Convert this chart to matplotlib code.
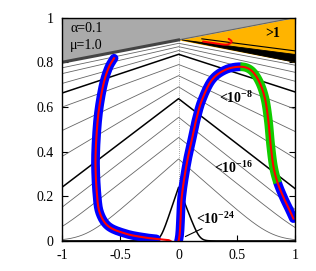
import numpy as np
import matplotlib
matplotlib.use("Agg")
import matplotlib.pyplot as plt

plt.rcParams['font.family'] = ['Liberation Serif', 'DejaVu Serif']
plt.rcParams['mathtext.fontset'] = 'custom'
plt.rcParams['mathtext.rm'] = 'Liberation Serif'
plt.rcParams['mathtext.bf'] = 'Liberation Serif:bold'

# contour levels (log10), every 2 decades; thick every 8
levels = [0, -2, -4, -6, -8, -10, -12, -14, -16, -18, -20, -22, -24]
peak_y = [0.900, 0.885, 0.870, 0.853, 0.836, 0.790, 0.740, 0.690, 0.637, 0.554, 0.464, 0.367, 0.240]
left_y = [0.800, 0.775, 0.749, 0.705, 0.662, 0.599, 0.494, 0.378, 0.240, 0.150, 0.055, -0.09, -1.30]
right_y = [0.800, 0.787, 0.755, 0.715, 0.667, 0.590, 0.490, 0.370, 0.234, 0.140, 0.050, -0.09, -1.10]
foot_w = [0.02, 0.02, 0.02, 0.02, 0.02, 0.02, 0.02, 0.025, 0.03, 0.035, 0.04, 0.045, 0.03]

# path: blue band with red centre line, green part in the middle
path_x = [-0.553, -0.60, -0.645, -0.685, -0.705, -0.712, -0.70, -0.675, -0.60, -0.45, -0.30,
          -0.19, -0.09, 0.0, 0.027, 0.07, 0.113, 0.15, 0.20, 0.285, 0.40, 0.53,
          0.62, 0.69, 0.74, 0.77, 0.79, 0.815, 0.85, 0.90, 0.95, 0.985]
path_y = [0.818, 0.775, 0.70, 0.58, 0.46, 0.34, 0.21, 0.125, 0.065, 0.032, 0.016,
          0.009, 0.004, 0.0, 0.195, 0.345, 0.45, 0.54, 0.63, 0.72, 0.766, 0.78,
          0.765, 0.715, 0.64, 0.54, 0.43, 0.33, 0.26, 0.195, 0.14, 0.10]
blue1 = (0, 11)
blue2 = (13, 21)
green = (21, 28)
blue3 = (28, 31)
hook_x = [0.21, 0.30, 0.40, 0.44, 0.455, 0.43]
hook_y = [0.893, 0.886, 0.879, 0.884, 0.894, 0.905]


def soft(z, w):
    return w * np.logaddexp(0, z / w)


def catmull(xp, yp, n=16):
    p = np.column_stack([xp, yp])
    p = np.vstack([p[0], p, p[-1]])
    out = []
    t = np.linspace(0, 1, n, endpoint=False)[:, None]
    for i in range(1, len(p) - 2):
        p0, p1, p2, p3 = p[i - 1], p[i], p[i + 1], p[i + 2]
        seg = 0.5 * ((2 * p1) + (-p0 + p2) * t + (2 * p0 - 5 * p1 + 4 * p2 - p3) * t ** 2
                     + (-p0 + 3 * p1 - 3 * p2 + p3) * t ** 3)
        out.append(seg)
    out.append(p[-2][None, :])
    return np.vstack(out)


fig = plt.figure(figsize=(3.16, 2.71), dpi=100)
ax = fig.add_axes([0.196, 0.111, 0.738, 0.824])

xs = np.linspace(-1, 1, 1601)
for lev, p, yl, yr, w in zip(levels, peak_y, left_y, right_y, foot_w):
    if lev == 0:
        continue
    edge = np.where(xs < 0, yl, yr)
    y = soft(p + (edge - p) * np.abs(xs), w)
    if lev % 8 == 0:
        ax.plot(xs, y, color='black', lw=1.1, zorder=2)
    else:
        ax.plot(xs, y, color='#666666', lw=0.6, zorder=2)

# dotted line at x = 0
ax.plot([0, 0], [0, peak_y[0]], color='#888888', lw=0.6, ls=(0, (1, 1.5)), zorder=1)

# grey region and orange >1 region
gx = np.array([-1, 1])
ax.fill_between(gx, 0.9 + 0.1 * gx, 1.0, color='#aaaaaa', lw=0, zorder=3)
ox = np.array([0, 1])
ax.fill_between(ox, peak_y[0] + (right_y[0] - peak_y[0]) * ox, 0.9 + 0.1 * ox,
                color='#ffb400', lw=0, zorder=3)
ax.plot([0, 1], [0.9, 1.0], color='#666666', lw=0.8, zorder=4)
ax.plot([-1, 0], [left_y[0], peak_y[0]], color='#444444', lw=2.2, zorder=4)
ax.fill([0.03, 1.0, 1.0], [0.9, 0.835, right_y[0]], color='black', lw=0.6, zorder=4)
ax.plot([0.2, 1.0], [0.905, 0.851], color='black', lw=0.8, zorder=4)
hk = catmull(hook_x, hook_y)
ax.plot(hk[:, 0], hk[:, 1], color='red', lw=1.4, zorder=5, solid_capstyle='round')

# path
n = 16
cur = catmull(path_x, path_y, n)
bw = 6.3
for (a, b), col, cap in [(blue1, 'blue', 'round'), (blue2, 'blue', 'round'),
                         (blue3, 'blue', 'round'), (green, '#11cc00', 'butt')]:
    seg = cur[a * n:b * n + 1]
    ax.plot(seg[:, 0], seg[:, 1], color=col, lw=bw, solid_capstyle=cap,
            zorder=6 if cap == 'butt' else 5)
ax.plot(cur[:, 0], cur[:, 1], color='red', lw=1.5, zorder=7)

# labels
ax.text(-0.93, 0.953, 'α=0.1', fontsize=10, va='center', zorder=8)
ax.text(-0.93, 0.876, 'μ=1.0', fontsize=10, va='center', zorder=8)
ax.text(0.81, 0.93, '>1', fontsize=10, fontweight='bold', ha='center', va='center', zorder=8)
ax.text(0.49, 0.643, r'<10$^{\mathbf{-8}}$', fontsize=10, fontweight='bold',
        ha='center', va='center', zorder=8)
ax.text(0.47, 0.33, r'<10$^{\mathbf{-16}}$', fontsize=10, fontweight='bold',
        ha='center', va='center', zorder=8)
ax.text(0.32, 0.10, r'<10$^{\mathbf{-24}}$', fontsize=10, fontweight='bold',
        ha='center', va='center', zorder=8)
ax.plot([0.06, 0.2], [0.02, 0.055], color='black', lw=0.8, zorder=8)

ax.set_xlim(-1, 1)
ax.set_ylim(0, 1)
ax.set_xticks([-1, -0.5, 0, 0.5, 1])
ax.set_xticklabels(['-1', '-0.5', '0', '0.5', '1'])
ax.set_yticks([0, 0.2, 0.4, 0.6, 0.8, 1])
ax.set_yticklabels(['0', '0.2', '0.4', '0.6', '0.8', '1'])
ax.tick_params(direction='in', length=4, width=0.8, top=True, right=True,
               labelsize=10, pad=6)
for s in ax.spines.values():
    s.set_linewidth(1.0)
    s.set_zorder(10)

fig.savefig('out.png', dpi=100)
